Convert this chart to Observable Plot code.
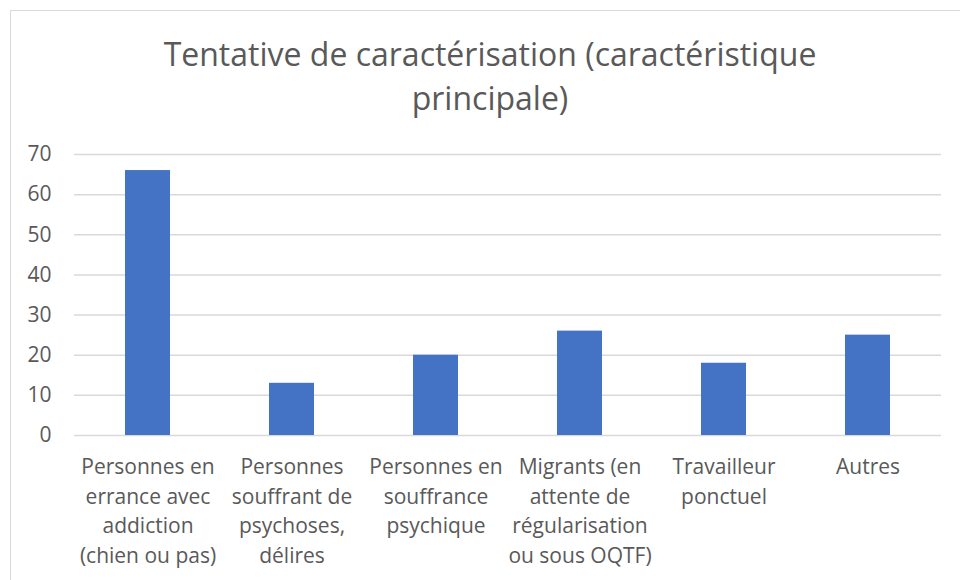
<!DOCTYPE html>
<html>
<head>
<meta charset="utf-8">
<script src="https://cdn.jsdelivr.net/npm/d3@7"></script>
<script src="https://cdn.jsdelivr.net/npm/@observablehq/plot@0.6"></script>
<style>
  html, body { margin: 0; padding: 0; background: #fff; }
  #wrap { position: relative; width: 960px; height: 580px; overflow: hidden; background: #fff; font-family: "Open Sans", sans-serif; }
  #frame { position: absolute; left: 10px; top: 10px; width: 1000px; height: 1000px; border: 1.5px solid #d9d9d9; box-sizing: border-box; }
  #title { position: absolute; left: 0; width: 980px; top: 32px; text-align: center; font-size: 32px; line-height: 44px; color: #595959; }
  #chart { position: absolute; left: 0; top: 130px; }
</style>
</head>
<body>
<div id="wrap">
  <div id="frame"></div>
  <div id="title">Tentative de caractérisation (caractéristique<br>principale)</div>
  <div id="chart"></div>
</div>
<script>
const categories = [
  "Personnes en\nerrance avec\naddiction\n(chien ou pas)",
  "Personnes\nsouffrant de\npsychoses,\ndélires",
  "Personnes en\nsouffrance\npsychique",
  "Migrants (en\nattente de\nrégularisation\nou sous OQTF)",
  "Travailleur\nponctuel",
  "Autres"
];
const values = [66, 13, 20, 26, 18, 25];
const yTicks = [0, 10, 20, 30, 40, 50, 60, 70];

const data = categories.map((c, i) => ({category: c, value: values[i]}));

const chart = Plot.plot({
  width: 960,
  height: 450,
  marginTop: 24,
  marginBottom: 145,
  marginLeft: 74,
  marginRight: 19,
  style: {fontFamily: "Open Sans, sans-serif", fontSize: "21px", color: "#595959", background: "transparent"},
  x: {domain: categories, paddingInner: 0.685, paddingOuter: 0.3425, axis: null},
  y: {domain: [0, 70], ticks: yTicks, axis: null},
  marks: [
    Plot.ruleY(yTicks, {stroke: "#d9d9d9", strokeWidth: 1.5}),
    Plot.barY(data, {x: "category", y: "value", fill: "#4472c4"}),
    Plot.text(yTicks, {frameAnchor: "left", y: d => d, text: d => String(d), textAnchor: "end", dx: -23, fontSize: 21, fill: "#595959"}),
    Plot.text(data, {x: "category", y: () => 0, text: "category", lineAnchor: "top", dy: 18, fontSize: 21, lineHeight: 1.405, fill: "#595959"})
  ]
});
document.getElementById("chart").appendChild(chart);
</script>
</body>
</html>
